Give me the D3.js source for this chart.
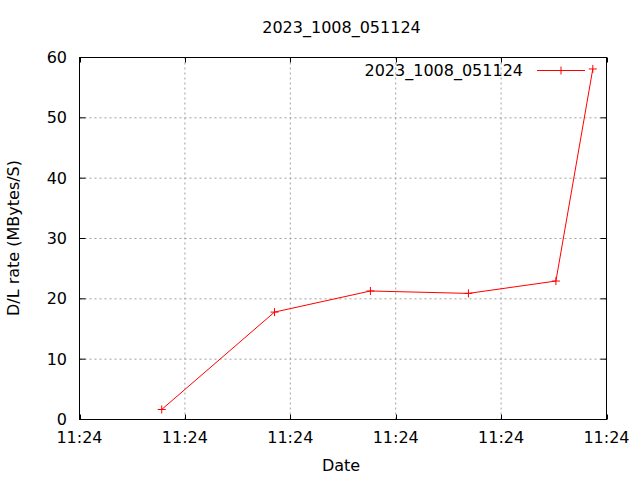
<!DOCTYPE html>
<html><head><meta charset="utf-8">
<script src="https://cdn.jsdelivr.net/npm/d3@7"></script>
<style>body{margin:0;background:#fff}svg{display:block}text{font-family:"DejaVu Sans",sans-serif;font-size:16px;fill:#000}</style>
</head><body><svg id="c" width="640" height="480"></svg>
<script>
const seriesName = "2023_1008_051124";
const times = ["11:24:07.8","11:24:18.5","11:24:27.6","11:24:36.9","11:24:45.2","11:24:48.7"];
const rates = [1.66, 17.8, 21.3, 20.9, 22.95, 58.1];
const xDomain = ["11:24:00","11:24:50"];
const yTicks = [0,10,20,30,40,50,60];

const parse = s => { const [h,m,sec] = s.split(":"); const d = new Date(2023,9,8,+h,+m,0,0); d.setMilliseconds(Math.round(parseFloat(sec)*1000)); return d; };
const data = times.map((t,i)=>({t:parse(t), v:rates[i]}));

const L=79.5,R=606.5,T=57.5,B=419.5;
const svg=d3.select("#c");
const x=d3.scaleTime().domain(xDomain.map(parse)).range([L,R]);
const y=d3.scaleLinear().domain([0,60]).range([B,T]);
const xt=d3.timeSecond.every(10).range(x.domain()[0], new Date(+x.domain()[1]+1));
const fmt=d3.timeFormat("%H:%M");

// grid
const g=svg.append("g");
xt.forEach(t=>{ if(+t!==+x.domain()[0] && +t!==+x.domain()[1]) g.append("line").attr("x1",x(t)).attr("x2",x(t)).attr("y1",T).attr("y2",B).attr("stroke","#a0a0a0").attr("stroke-dasharray","2,3"); });
yTicks.forEach(v=>{ if(v!==0 && v!==60) g.append("line").attr("x1",L).attr("x2",R).attr("y1",y(v)).attr("y2",y(v)).attr("stroke","#a0a0a0").attr("stroke-dasharray","2,3"); });

// ticks (inward, mirrored)
xt.forEach(t=>{ const X=Math.round(x(t))+0.5;
  svg.append("line").attr("x1",X).attr("x2",X).attr("y1",B).attr("y2",B-5).attr("stroke","#000");
  svg.append("line").attr("x1",X).attr("x2",X).attr("y1",T).attr("y2",T+5).attr("stroke","#000");
  svg.append("text").attr("x",x(t)).attr("y",443).attr("text-anchor","middle").text(fmt(t));
});
yTicks.forEach(v=>{ const Y=y(v);
  svg.append("line").attr("x1",L).attr("x2",L+6).attr("y1",Y).attr("y2",Y).attr("stroke","#000");
  svg.append("line").attr("x1",R).attr("x2",R-6).attr("y1",Y).attr("y2",Y).attr("stroke","#000");
  svg.append("text").attr("x",67).attr("y",Y+5.5).attr("text-anchor","end").text(v);
});
svg.append("rect").attr("x",L).attr("y",T).attr("width",R-L).attr("height",B-T).attr("fill","none").attr("stroke","#000");

// line & points
const line=d3.line().x(d=>x(d.t)).y(d=>y(d.v));
svg.append("path").datum(data).attr("d",line).attr("fill","none").attr("stroke","#f00").attr("stroke-width",1);
const plus=(cx,cy)=>{ svg.append("path").attr("d",`M${cx-4},${cy}H${cx+4}M${cx},${cy-4}V${cy+4}`).attr("stroke","#f00").attr("stroke-width",1); };
data.forEach(d=>plus(x(d.t),y(d.v)));

// legend
svg.append("text").attr("x",523).attr("y",76).attr("text-anchor","end").text(seriesName);
svg.append("line").attr("x1",537).attr("x2",585).attr("y1",70.5).attr("y2",70.5).attr("stroke","#f00");
plus(561,70.5);

// titles
svg.append("text").attr("x",341.5).attr("y",33).attr("text-anchor","middle").text(seriesName);
svg.append("text").attr("x",341).attr("y",471).attr("text-anchor","middle").text("Date");
svg.append("text").attr("transform","translate(19,238) rotate(-90)").attr("text-anchor","middle").text("D/L rate (MBytes/S)");
</script></body></html>
